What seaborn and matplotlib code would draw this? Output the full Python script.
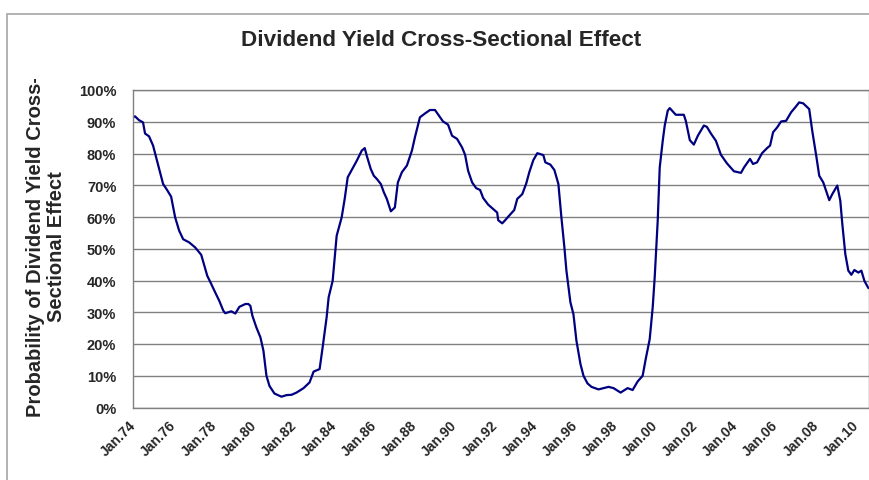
import matplotlib
matplotlib.use('Agg')
import matplotlib.pyplot as plt
import seaborn as sns
from matplotlib.patches import Rectangle
from matplotlib.transforms import Bbox, TransformedBbox, ScaledTranslation

# Datas (ano decimal) e probabilidade (%)
anos = [
    1974.0, 1974.1, 1974.3, 1974.5, 1974.6, 1974.8, 1975.0, 1975.2, 1975.5, 1975.7,
    1975.9, 1976.1, 1976.3, 1976.5, 1976.8, 1977.1, 1977.4, 1977.7, 1977.9, 1978.1,
    1978.3, 1978.5, 1978.6, 1978.9, 1979.1, 1979.3, 1979.6, 1979.75, 1979.85, 1979.95,
    1980.15, 1980.35, 1980.5, 1980.65, 1980.8, 1981.05, 1981.4, 1981.65, 1981.9, 1982.15,
    1982.5, 1982.8, 1983.0, 1983.3, 1983.45, 1983.65, 1983.75, 1983.95, 1984.15, 1984.4,
    1984.55, 1984.7, 1984.9, 1985.15, 1985.4, 1985.55, 1985.65, 1985.85, 1986.0, 1986.15,
    1986.35, 1986.5, 1986.65, 1986.85, 1987.05, 1987.2, 1987.4, 1987.65, 1987.9, 1988.05,
    1988.3, 1988.55, 1988.8, 1989.05, 1989.25, 1989.45, 1989.7, 1989.9, 1990.15, 1990.4,
    1990.55, 1990.7, 1990.9, 1991.1, 1991.3, 1991.45, 1991.7, 1991.95, 1992.15, 1992.2,
    1992.4, 1992.55, 1992.7, 1993.0, 1993.15, 1993.4, 1993.6, 1993.75, 1993.95, 1994.15,
    1994.45, 1994.55, 1994.8, 1995.0, 1995.2, 1995.35, 1995.5, 1995.6, 1995.8, 1995.95,
    1996.1, 1996.3, 1996.45, 1996.65, 1996.85, 1997.2, 1997.45, 1997.7, 1997.95, 1998.1,
    1998.3, 1998.65, 1998.9, 1999.15, 1999.4, 1999.55, 1999.75, 1999.9, 2000.0, 2000.15,
    2000.25, 2000.4, 2000.5, 2000.65, 2000.75, 2001.05, 2001.45, 2001.55, 2001.75, 2001.95,
    2002.15, 2002.45, 2002.6, 2002.8, 2003.05, 2003.3, 2003.6, 2003.95, 2004.3, 2004.45,
    2004.75, 2004.9, 2005.1, 2005.35, 2005.6, 2005.75, 2005.9, 2006.1, 2006.3, 2006.55,
    2006.8, 2007.0, 2007.2, 2007.4, 2007.7, 2007.85, 2008.05, 2008.2, 2008.4, 2008.7,
    2008.85, 2009.1, 2009.25, 2009.35, 2009.5, 2009.65, 2009.8, 2009.95, 2010.15, 2010.3,
    2010.45, 2010.65,
]
prob = [
    91.4, 91.7, 90.5, 89.8, 86.3, 85.4, 82.5, 77.7, 70.4, 68.5,
    66.4, 59.9, 55.7, 53.0, 52.0, 50.4, 48.1, 41.5, 38.9, 36.2,
    33.6, 30.5, 29.7, 30.3, 29.6, 31.7, 32.6, 32.6, 32.0, 28.9,
    25.2, 22.1, 17.9, 10.0, 6.8, 4.4, 3.4, 3.9, 4.0, 4.7,
    6.1, 7.9, 11.3, 12.1, 18.9, 28.4, 34.7, 39.9, 54.1, 59.9,
    65.7, 72.5, 74.8, 77.7, 80.9, 81.7, 79.3, 75.1, 73.0, 72.0,
    70.4, 67.8, 65.7, 61.8, 63.0, 70.9, 74.1, 76.2, 80.9, 85.1,
    91.4, 92.6, 93.7, 93.7, 91.9, 90.1, 89.1, 85.6, 84.6, 81.9,
    79.6, 74.6, 70.9, 69.1, 68.5, 66.0, 63.9, 62.5, 61.4, 59.0,
    58.0, 59.0, 60.1, 62.2, 65.7, 67.2, 70.6, 74.1, 77.9, 80.1,
    79.5, 77.2, 76.5, 74.8, 70.4, 59.9, 50.4, 43.1, 33.1, 29.4,
    21.0, 13.7, 10.0, 7.6, 6.5, 5.7, 6.1, 6.5, 6.1, 5.5,
    4.7, 6.1, 5.5, 8.2, 10.0, 15.2, 21.5, 31.5, 41.0, 58.8,
    75.6, 84.0, 88.8, 93.5, 94.3, 92.2, 92.2, 90.3, 84.2, 82.8,
    85.6, 88.8, 88.4, 86.3, 84.0, 79.6, 76.9, 74.4, 73.9, 75.6,
    78.3, 76.7, 77.2, 80.1, 81.7, 82.5, 86.7, 88.2, 90.1, 90.3,
    93.0, 94.5, 96.1, 95.8, 94.0, 87.2, 79.3, 73.0, 70.9, 65.3,
    67.2, 69.9, 65.1, 57.8, 48.3, 43.1, 41.8, 43.3, 42.5, 43.1,
    39.9, 37.6,
]

anos_ticks = list(range(1974, 2011, 2))
rotulos_x = ['Jan.%02d' % (a % 100) for a in anos_ticks]
valores_y = list(range(0, 101, 10))
rotulos_y = [f'{v}%' for v in valores_y]

sns.set_style('white')
plt.rcParams['font.family'] = ['Liberation Sans', 'DejaVu Sans']

fig = plt.figure(figsize=(8.7, 4.81), dpi=100)
ax = fig.add_axes([133 / 870, 1 - 408.5 / 481, 736 / 870, 317.5 / 481])

sns.lineplot(x=anos, y=prob, ax=ax, color='#000080', linewidth=1.6)

ax.set_xlim(1974, 2010.68)
ax.set_ylim(0, 100)
ax.set_yticks(valores_y)
ax.set_yticklabels(rotulos_y, fontweight='bold', fontsize=10.5)
ax.set_xticks(anos_ticks)
ax.set_xticklabels(rotulos_x, rotation=45, ha='right', rotation_mode='anchor',
                   fontweight='bold', fontsize=10)
ax.tick_params(axis='x', length=4, width=1, color='#808080', pad=3)
ax.tick_params(axis='y', length=3, width=1, color='#808080', pad=9)
# desloca os rotulos do eixo x um pouco para a esquerda
desloc = ScaledTranslation(-4 / 100, 0, fig.dpi_scale_trans)
for rot in ax.get_xticklabels():
    rot.set_transform(rot.get_transform() + desloc)

ax.yaxis.grid(True, color='#808080', linewidth=1)
ax.set_axisbelow(True)
for lado in ['left', 'bottom', 'right', 'top']:
    ax.spines[lado].set_color('#808080')
    ax.spines[lado].set_linewidth(1)

ax.set_xlabel('')
ax.set_ylabel('Probability of Dividend Yield Cross-\nSectional Effect',
              fontsize=14.5, fontweight='bold', linespacing=1.15)
ax.yaxis.set_label_coords(-0.091, 0.51)
ax.yaxis.label.set_clip_box(TransformedBbox(Bbox([[0, 0], [1, 1 - 80 / 481]]), fig.transFigure))
ax.yaxis.label.set_clip_on(True)

fig.text(441 / 870, 1 - 40 / 481, 'Dividend Yield Cross-Sectional Effect',
         ha='center', va='center', fontsize=16.2, fontweight='bold')

# moldura cinza do grafico
fig.add_artist(Rectangle((7 / 870, -0.05), 1.2, (481 - 15) / 481 + 0.05,
                         transform=fig.transFigure, fill=False,
                         edgecolor='#a6a6a6', linewidth=1.2))

fig.savefig('out.png', dpi=100)
